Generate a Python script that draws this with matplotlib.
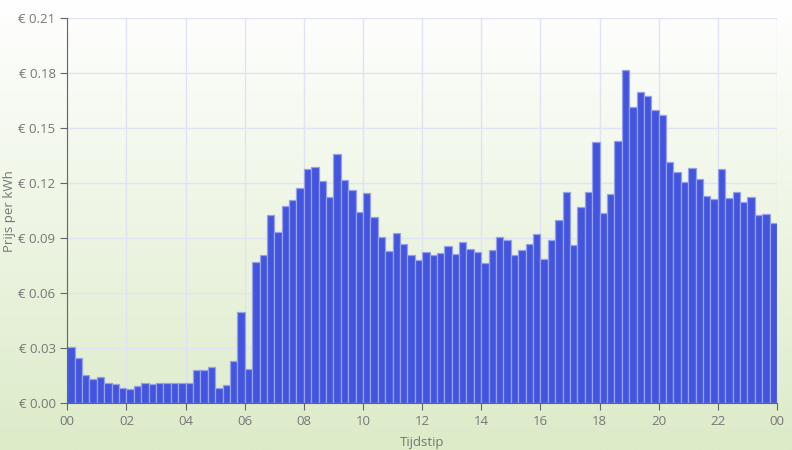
import numpy as np
import matplotlib
matplotlib.use("Agg")
import matplotlib.pyplot as plt

plt.rcParams['font.family'] = ['Open Sans', 'DejaVu Sans']

# prijs per kwartier (96 kwartieren)
prijzen = [
    0.0309, 0.0247, 0.0154, 0.0134, 0.0145, 0.0112, 0.0103, 0.0082,
    0.0078, 0.0096, 0.0112, 0.0105, 0.0112, 0.0109, 0.0112, 0.0112,
    0.0109, 0.0181, 0.0180, 0.0200, 0.0083, 0.0100, 0.0229, 0.0496,
    0.0189, 0.0768, 0.0806, 0.1026, 0.0932, 0.1077, 0.1108, 0.1172,
    0.1277, 0.1286, 0.1213, 0.1123, 0.1360, 0.1219, 0.1164, 0.1043,
    0.1145, 0.1014, 0.0905, 0.0830, 0.0927, 0.0870, 0.0810, 0.0783,
    0.0826, 0.0806, 0.0821, 0.0859, 0.0815, 0.0881, 0.0839, 0.0823,
    0.0766, 0.0834, 0.0908, 0.0890, 0.0806, 0.0835, 0.0866, 0.0921,
    0.0785, 0.0890, 0.1001, 0.1153, 0.0863, 0.1068, 0.1150, 0.1426,
    0.1037, 0.1142, 0.1430, 0.1818, 0.1613, 0.1695, 0.1673, 0.1599,
    0.1573, 0.1315, 0.1261, 0.1208, 0.1281, 0.1222, 0.1130, 0.1113,
    0.1277, 0.1117, 0.1152, 0.1097, 0.1124, 0.1026, 0.1030, 0.0984,
]
uren = np.arange(len(prijzen)) * 0.25
x_ticks = list(range(0, 25, 2))
x_labels = ['%02d' % (h % 24) for h in x_ticks]
y_ticks = [0.0, 0.03, 0.06, 0.09, 0.12, 0.15, 0.18, 0.21]
y_labels = ['€ %.2f' % v for v in y_ticks]

fig = plt.figure(figsize=(7.92, 4.5), dpi=100)

# achtergrond: verloop van wit naar lichtgroen
bg = fig.add_axes([0, 0, 1, 1], zorder=-1)
top = np.array([1.0, 1.0, 1.0])
bottom = np.array([0xdc, 0xeb, 0xc8]) / 255.0
t = np.linspace(0, 1, 256)[:, None]
grad = top * (1 - t) + bottom * t
bg.imshow(grad[:, None, :], aspect='auto', extent=[0, 1, 0, 1])
bg.axis('off')

ax = fig.add_axes([0.085, 0.104, 0.896, 0.856])
ax.set_facecolor('none')
ax.bar(uren, prijzen, width=0.25, align='edge', color='#4355de',
       edgecolor='#97a1ea', linewidth=0.9, zorder=3)

ax.set_xlim(0, 24)
ax.set_ylim(0, 0.21)
ax.set_xticks(x_ticks)
ax.set_xticklabels(x_labels)
ax.set_yticks(y_ticks)
ax.set_yticklabels(y_labels)
ax.grid(True, color='#e0e3f4', linewidth=1, zorder=0)

for s in ['top', 'right']:
    ax.spines[s].set_visible(False)
for s in ['left', 'bottom']:
    ax.spines[s].set_color('#666666')
    ax.spines[s].set_zorder(4)
ax.tick_params(colors='#666666', labelcolor='#777777', labelsize=9.5, length=5)
ax.set_xlabel('Tijdstip', color='#777777', fontsize=9.5, labelpad=6)
ax.set_ylabel('Prijs per kWh', color='#777777', fontsize=9.5)
ax.yaxis.set_label_coords(-0.072, 0.5)

fig.savefig('out.png', dpi=100)
